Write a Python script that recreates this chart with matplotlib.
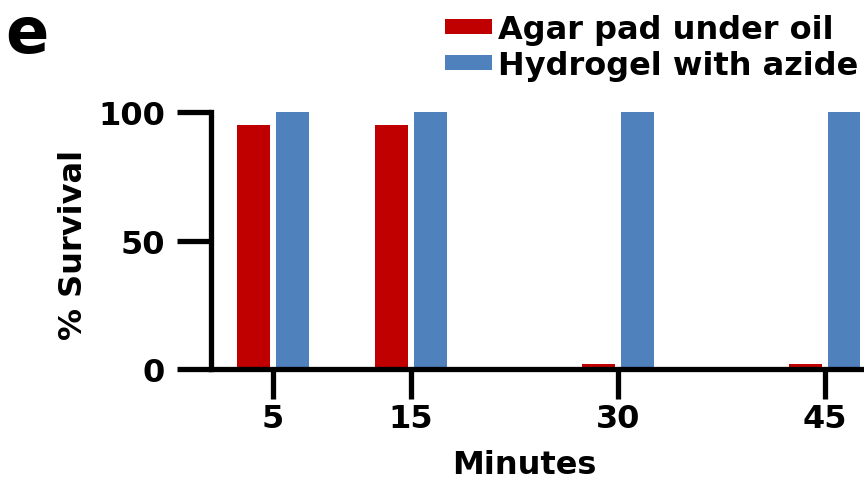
import matplotlib
matplotlib.use('Agg')
import matplotlib.pyplot as plt
import numpy as np

# ---- data ----
minutes = [5, 15, 30, 45]
agar_pad_under_oil = [95, 95, 2, 2]
hydrogel_with_azide = [100, 100, 100, 100]
series_labels = ['Agar pad under oil', 'Hydrogel with azide']
y_ticks = [0, 50, 100]
x_label = 'Minutes'
y_label = '% Survival'
panel_letter = 'e'

plt.rcParams['font.family'] = ['DejaVu Sans']
plt.rcParams['font.weight'] = 'bold'

RED = '#C00000'
BLUE = '#4F81BD'
W, H = 864, 489

fig = plt.figure(figsize=(W / 100, H / 100), dpi=100)
ax = fig.add_axes([211 / W, (H - 370) / H, (W - 211) / W, (370 - 113) / H])

x = np.array(minutes, dtype=float)
bw = 2.39
off = 1.41
ax.bar(x - off, agar_pad_under_oil, bw, color=RED, label=series_labels[0], clip_on=False, zorder=1)
ax.bar(x + off, hydrogel_with_azide, bw, color=BLUE, label=series_labels[1], clip_on=False, zorder=1)

ax.set_xlim(0.5, 47.86)
ax.set_ylim(0, 100)
for s in ['top', 'right']:
    ax.spines[s].set_visible(False)
for s in ['left', 'bottom']:
    ax.spines[s].set_linewidth(3.8)
    ax.spines[s].set_capstyle('projecting')

ax.set_xticks(minutes)
ax.set_xticklabels([str(m) for m in minutes])
ax.set_yticks(y_ticks)
ax.tick_params(axis='x', length=21.6, width=3.8, labelsize=23, pad=3)
ax.tick_params(axis='y', length=24.5, width=3.8, labelsize=23, pad=8.5)

ax.set_xlabel(x_label, fontsize=23, fontweight='bold')
ax.xaxis.set_label_coords(0.48, -0.311)
ax.set_ylabel(y_label, fontsize=23, fontweight='bold')
ax.yaxis.set_label_coords(-0.1875, 0.486)

fig.text(5 / W, 1 - 53 / H, panel_letter, fontsize=46, fontweight='bold',
         ha='left', va='baseline')

fig.legend(loc='upper left', bbox_to_anchor=(445 / W, 1 - 15 / H), frameon=False,
           fontsize=23, handlelength=1.47, handleheight=0.35, handletextpad=0.19,
           labelspacing=0.15, borderaxespad=0.0, borderpad=0.0)

fig.savefig('out.png', dpi=100)
